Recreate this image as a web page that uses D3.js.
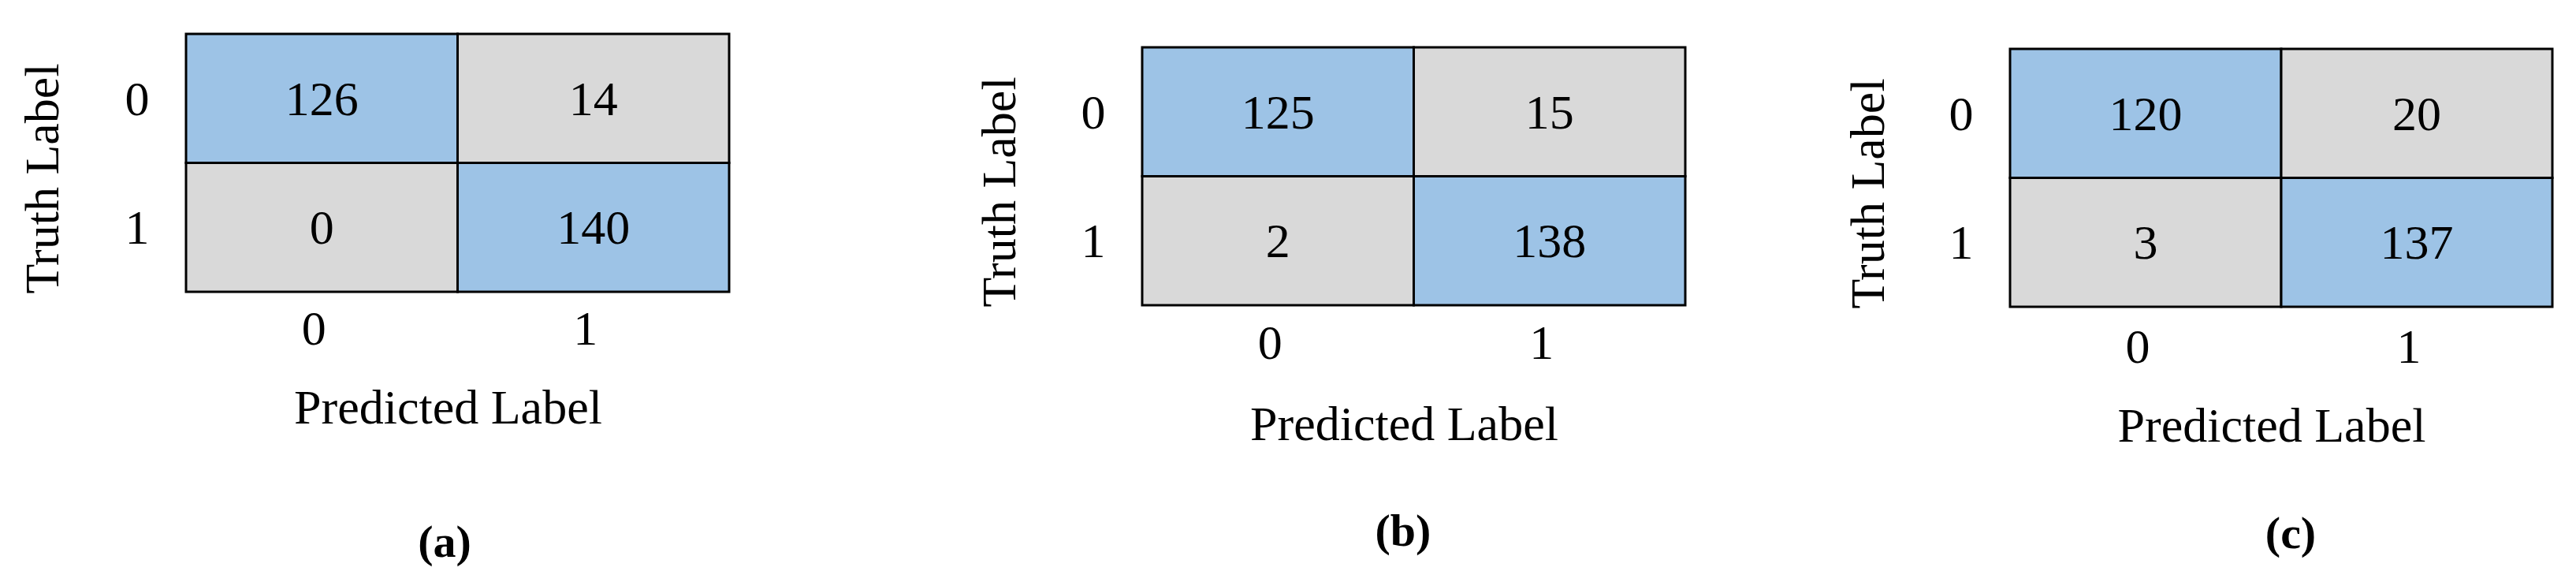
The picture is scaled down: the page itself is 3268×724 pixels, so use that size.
<!DOCTYPE html>
<html>
<head>
<meta charset="utf-8">
<script src="https://cdn.jsdelivr.net/npm/d3@7"></script>
<style>
  body { margin: 0; background: #fff; }
</style>
</head>
<body>
<div id="chart"></div>
<script>
// Data
const classes = ["0", "1"];
const captions = ["(a)", "(b)", "(c)"];
const matrixA = [[126, 14], [0, 140]];
const matrixB = [[125, 15], [2, 138]];
const matrixC = [[120, 20], [3, 137]];
const matrices = [matrixA, matrixB, matrixC];

/**
 * Layout of each panel (grid box in page pixels)
 */
const panels = [
    { x: 236, y: 43, w: 689, h: 327, truthX: 53, tickDy: 46, predY: 516, capX: 564, capY: 686 },
    { x: 1449, y: 60, w: 689, h: 327, truthX: 1267, tickDy: 47, predY: 537, capX: 1780, capY: 672 },
    { x: 2550, y: 62, w: 688, h: 327, truthX: 2369, tickDy: 50, predY: 539, capX: 2906, capY: 675 }
];

const svgWidth = 3268;
const svgHeight = 724;
const fontSize = 62;
const font = "'Liberation Serif', 'Times New Roman', serif";
const blue = "#9DC3E6";
const gray = "#D9D9D9";

const svg = d3.select("#chart")
    .append("svg")
    .attr("width", svgWidth)
    .attr("height", svgHeight);

panels.forEach((p, k) => {
    const m = matrices[k];
    const x = d3.scaleBand().domain(classes).range([p.x, p.x + p.w]);
    const y = d3.scaleBand().domain(classes).range([p.y, p.y + p.h]);

    const cells = [];
    classes.forEach((t, i) => classes.forEach((pr, j) => cells.push({ t, pr, v: m[i][j], diag: i === j })));

    const g = svg.append("g");

    g.selectAll("rect.cell")
        .data(cells)
        .enter()
        .append("rect")
        .attr("class", "cell")
        .attr("x", d => x(d.pr))
        .attr("y", d => y(d.t))
        .attr("width", x.bandwidth())
        .attr("height", y.bandwidth())
        .attr("fill", d => d.diag ? blue : gray)
        .attr("stroke", "#000")
        .attr("stroke-width", 3);

    g.selectAll("text.val")
        .data(cells)
        .enter()
        .append("text")
        .attr("x", d => x(d.pr) + x.bandwidth() / 2)
        .attr("y", d => y(d.t) + y.bandwidth() / 2)
        .attr("text-anchor", "middle")
        .attr("dominant-baseline", "central")
        .attr("font-family", font)
        .attr("font-size", fontSize)
        .text(d => d.v);

    // row tick labels
    g.selectAll("text.row")
        .data(classes)
        .enter()
        .append("text")
        .attr("x", p.x - 62)
        .attr("y", d => y(d) + y.bandwidth() / 2)
        .attr("text-anchor", "middle")
        .attr("dominant-baseline", "central")
        .attr("font-family", font)
        .attr("font-size", fontSize)
        .text(d => d);

    // column tick labels
    g.selectAll("text.col")
        .data(classes)
        .enter()
        .append("text")
        .attr("x", d => x(d) + x.bandwidth() / 2 - 10)
        .attr("y", p.y + p.h + p.tickDy)
        .attr("text-anchor", "middle")
        .attr("dominant-baseline", "central")
        .attr("font-family", font)
        .attr("font-size", fontSize)
        .text(d => d);

    g.append("text")
        .attr("transform", `translate(${p.truthX}, ${p.y + p.h / 2 + 20}) rotate(-90)`)
        .attr("text-anchor", "middle")
        .attr("dominant-baseline", "central")
        .attr("font-family", font)
        .attr("font-size", fontSize)
        .text("Truth Label");

    g.append("text")
        .attr("x", p.x + p.w / 2 - 12)
        .attr("y", p.predY)
        .attr("text-anchor", "middle")
        .attr("dominant-baseline", "central")
        .attr("font-family", font)
        .attr("font-size", fontSize)
        .text("Predicted Label");

    g.append("text")
        .attr("x", p.capX)
        .attr("y", p.capY)
        .attr("text-anchor", "middle")
        .attr("dominant-baseline", "central")
        .attr("font-family", font)
        .attr("font-size", 58)
        .attr("font-weight", "bold")
        .text(captions[k]);
});
</script>
</body>
</html>
